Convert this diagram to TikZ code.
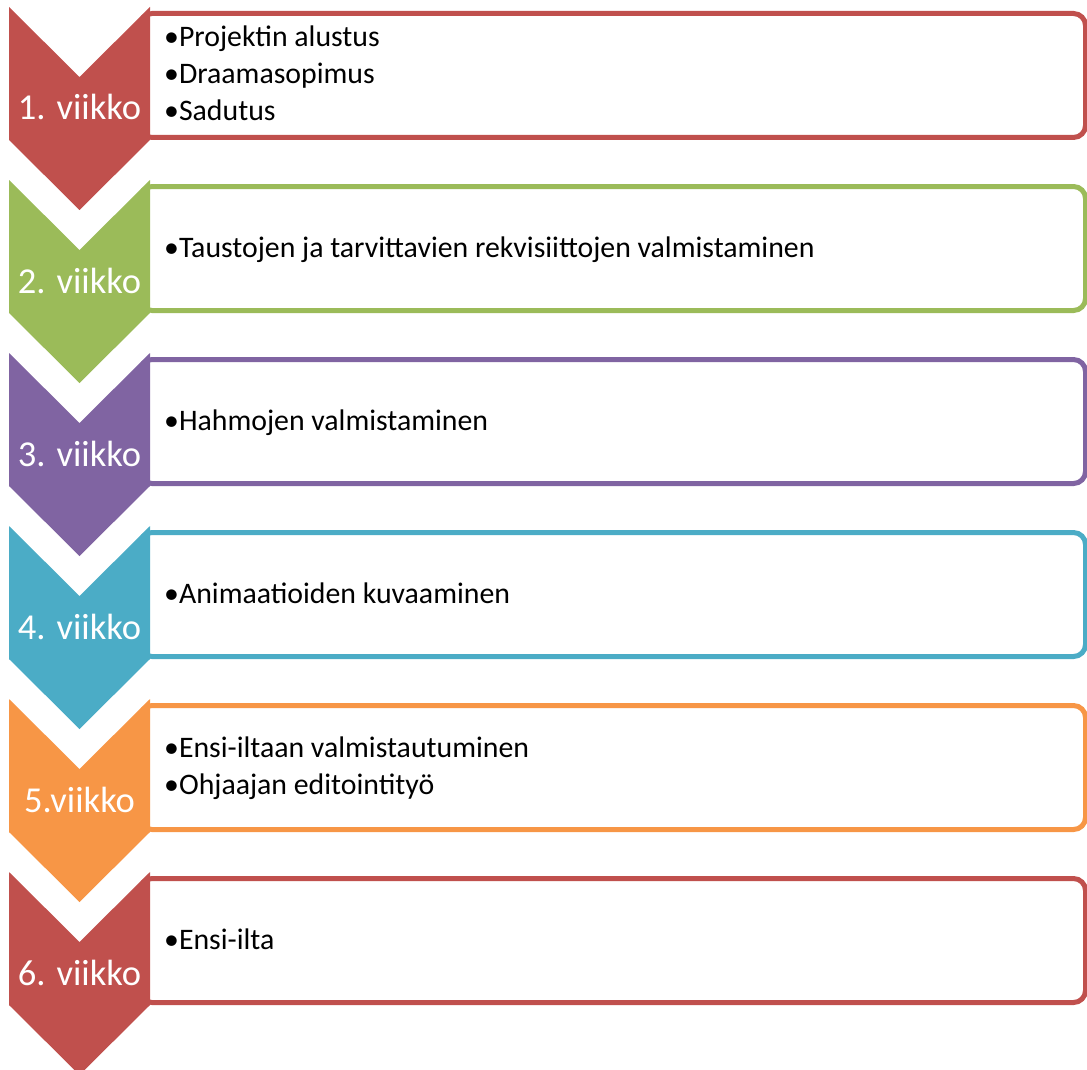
\documentclass[tikz,border=0pt]{standalone}
\usepackage{fontspec}
\setmainfont{Carlito}
\definecolor{wred}{HTML}{C0504D}
\definecolor{wgreen}{HTML}{9BBB59}
\definecolor{wpurple}{HTML}{8064A2}
\definecolor{wcyan}{HTML}{4BACC6}
\definecolor{worange}{HTML}{F79646}
\tikzset{
  boxline/.style={line width=5pt, rounded corners=12pt, fill=white},
  lab/.style={anchor=base, inner sep=0pt, text=white, font=\fontsize{36.5}{42}\selectfont},
  item/.style={anchor=base west, inner sep=0pt, text=black, font=\fontsize{29.8}{35}\selectfont}
}
\begin{document}
\begin{tikzpicture}[x=1pt,y=-1pt]
\useasboundingbox (0,0) rectangle (1087,1070);
\foreach \i/\c in {0/wred,1/wgreen,2/wpurple,3/wcyan,4/worange,5/wred} {
  \pgfmathsetmacro\T{7+173*\i}
  \draw[boxline, draw=\c] (140,\T+6.5) rectangle (1085.5,\T+130.5);
  \fill[\c] (9,\T) -- (79.5,\T+70) -- (150,\T) -- (150,\T+133) -- (79.5,\T+203) -- (9,\T+133) -- cycle;
}
\node[lab] (w1) at (79.5,120) {1. viikko};
\node[lab] (w2) at (79.5,293) {2. viikko};
\node[lab] (w3) at (79.5,466) {3. viikko};
\node[lab] (w4) at (79.5,639) {4. viikko};
\node[lab] (w5) at (79.5,812) {5.viikko};
\node[lab] (w6) at (79.5,985) {6. viikko};
\node[item] (t1a) at (164,47) {•Projektin alustus};
\node[item] (t1b) at (164,84) {•Draamasopimus};
\node[item] (t1c) at (164,121) {•Sadutus};
\node[item] (t2a) at (164,257) {•Taustojen ja tarvittavien rekvisiittojen valmistaminen};
\node[item] (t3a) at (164,430) {•Hahmojen valmistaminen};
\node[item] (t4a) at (164,603) {•Animaatioiden kuvaaminen};
\node[item] (t5a) at (164,757.5) {•Ensi-iltaan valmistautuminen};
\node[item] (t5b) at (164,794.5) {•Ohjaajan editointityö};
\node[item] (t6a) at (164,949) {•Ensi-ilta};
\end{tikzpicture}
\end{document}
